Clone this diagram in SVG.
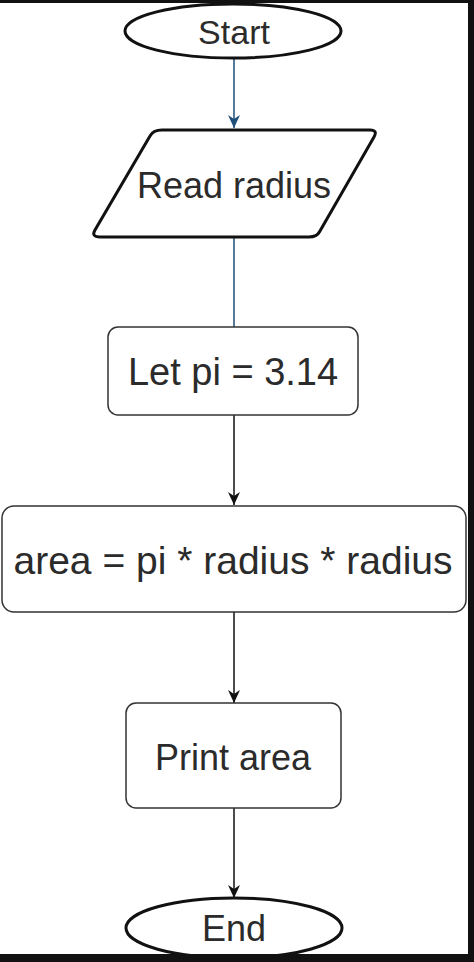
<svg xmlns="http://www.w3.org/2000/svg" width="474" height="962" viewBox="0 0 474 962">
<style>
.t{font-family:"Liberation Sans",Arial,sans-serif;fill:#2b2b2b;text-anchor:middle;dominant-baseline:central}
.box{fill:#fff;stroke:#333;stroke-width:1.5}
.term{fill:#fff;stroke:#111;stroke-width:3}
.c{stroke:#111;stroke-width:1.5;fill:none}
.cb{stroke:#1f4e79;stroke-width:1.5;fill:none}
</style>
<defs>
<marker id="ah" markerWidth="14" markerHeight="14" refX="13" refY="6" orient="auto" markerUnits="userSpaceOnUse"><path d="M0,0 L13,6 L0,12 L4,6 Z" fill="#111"/></marker>
<marker id="ahb" markerWidth="14" markerHeight="14" refX="13" refY="6" orient="auto" markerUnits="userSpaceOnUse"><path d="M0,0 L13,6 L0,12 L4,6 Z" fill="#1f4e79"/></marker>
</defs>
<rect width="474" height="962" fill="#fff"/>
<g id="connectors">
<line class="cb" x1="234" y1="58" x2="234" y2="128" marker-end="url(#ahb)"/>
<line class="cb" x1="234" y1="238" x2="234" y2="327"/>
<line class="c" x1="234" y1="415" x2="234" y2="505" marker-end="url(#ah)"/>
<line class="c" x1="234" y1="612" x2="234" y2="703" marker-end="url(#ah)"/>
<line class="c" x1="234" y1="808" x2="234" y2="898" marker-end="url(#ah)"/>
</g>
<g id="start"><ellipse class="term" cx="233" cy="31" rx="108" ry="27"/><text class="t" x="234" y="32" font-size="34">Start</text></g>
<g id="read"><path class="term" d="M162,130 L370,130 Q378,130 374,137 L320,231 Q317,237 309,237 L100,237 Q91,237 95,230 L150,136 Q153,130 162,130 Z" stroke-width="2.5"/><text class="t" x="234" y="185" font-size="36">Read radius</text></g>
<g id="pi"><rect class="box" x="108" y="327" width="250" height="88" rx="10"/><text class="t" x="233" y="372" font-size="38">Let pi = 3.14</text></g>
<g id="area"><rect class="box" x="2" y="506" width="464" height="106" rx="12"/><text class="t" x="233" y="560" font-size="39">area = pi * radius * radius</text></g>
<g id="print"><rect class="box" x="126" y="703" width="215" height="105" rx="10"/><text class="t" x="233" y="757" font-size="36">Print area</text></g>
<g id="end"><ellipse class="term" cx="234" cy="928" rx="108" ry="30"/><text class="t" x="234" y="928" font-size="36">End</text></g>
<g id="frame" fill="#111"><rect x="0" y="0" width="474" height="3"/><rect x="468" y="0" width="6" height="962"/><rect x="0" y="954" width="474" height="8"/></g>
</svg>
